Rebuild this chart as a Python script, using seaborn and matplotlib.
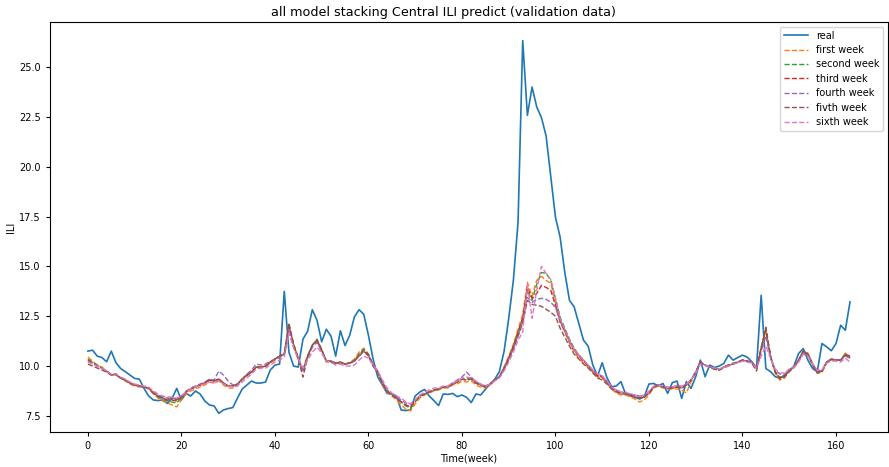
import numpy as np
import matplotlib
matplotlib.use("Agg")
import matplotlib.pyplot as plt
import seaborn as sns

# weekly ILI values (validation weeks 0..163)
real = [
    10.75, 10.80, 10.50, 10.43, 10.22, 10.75, 10.17, 9.88, 9.72, 9.55,
    9.38, 9.35, 8.88, 8.50, 8.30, 8.27, 8.30, 8.13, 8.38, 8.88,
    8.30, 8.63, 8.50, 8.75, 8.60, 8.25, 8.05, 8.00, 7.63, 7.80,
    7.87, 7.92, 8.40, 8.85, 9.05, 9.25, 9.15, 9.15, 9.20, 9.80,
    10.05, 10.10, 13.75, 10.70, 10.00, 9.95, 11.35, 11.75, 12.83, 12.30,
    11.22, 11.85, 11.50, 10.50, 11.77, 11.03, 11.55, 12.47, 12.83, 12.60,
    11.55, 10.35, 9.45, 9.05, 8.63, 8.60, 8.50, 7.80, 7.77, 7.80,
    8.50, 8.70, 8.83, 8.50, 8.27, 8.02, 8.60, 8.58, 8.63, 8.47,
    8.55, 8.43, 8.17, 8.60, 8.55, 8.83, 9.10, 9.33, 9.72, 10.72,
    12.38, 14.30, 17.20, 26.33, 22.58, 24.00, 23.00, 22.47, 21.55, 19.50,
    17.47, 16.47, 14.70, 13.30, 12.97, 12.13, 11.30, 11.00, 10.05, 9.50,
    10.17, 9.43, 8.97, 9.00, 9.22, 8.60, 8.55, 8.43, 8.35, 8.47,
    9.10, 9.13, 9.00, 9.13, 8.63, 9.17, 9.25, 8.38, 9.22, 8.88,
    9.47, 10.30, 9.47, 10.05, 9.93, 10.00, 10.13, 10.55, 10.30, 10.43,
    10.55, 10.45, 10.22, 9.90, 13.55, 9.88, 9.72, 9.47, 9.38, 9.55,
    9.72, 10.00, 10.63, 10.88, 10.30, 9.88, 9.72, 11.13, 10.97, 10.77,
    11.13, 12.05, 11.80, 13.22,
]

first_week = [
    10.45, 10.25, 10.05, 9.95, 9.75, 9.55, 9.60, 9.40, 9.25, 9.10,
    9.00, 8.95, 8.95, 8.85, 8.60, 8.40, 8.25, 8.15, 8.05, 7.95,
    8.30, 8.60, 8.75, 8.85, 8.95, 9.05, 9.20, 9.15, 9.25, 9.05,
    8.90, 8.90, 9.05, 9.30, 9.50, 9.70, 9.90, 9.90, 10.00, 10.15,
    10.30, 10.45, 10.55, 11.95, 11.05, 10.35, 9.80, 10.55, 11.00, 11.20,
    10.75, 10.20, 10.20, 10.10, 10.15, 10.10, 10.20, 10.35, 10.70, 10.90,
    10.60, 10.05, 9.65, 9.05, 8.70, 8.50, 8.30, 8.05, 7.85, 7.75,
    8.10, 8.40, 8.55, 8.65, 8.75, 8.80, 8.90, 8.90, 9.05, 9.10,
    9.25, 9.20, 9.25, 9.05, 8.95, 8.90, 9.05, 9.25, 9.50, 9.95,
    10.50, 11.10, 11.85, 12.60, 14.20, 13.50, 14.30, 14.50, 14.30, 14.15,
    13.20, 12.30, 11.70, 11.15, 10.70, 10.40, 10.15, 9.95, 9.70, 9.45,
    9.40, 9.15, 8.85, 8.65, 8.55, 8.55, 8.45, 8.35, 8.20, 8.30,
    8.55, 8.90, 9.00, 8.90, 8.85, 8.85, 8.85, 8.80, 8.65, 9.20,
    9.65, 10.20, 10.05, 9.95, 9.85, 9.80, 9.90, 10.00, 10.10, 10.20,
    10.30, 10.25, 10.15, 9.80, 10.85, 11.75, 10.45, 9.65, 9.30, 9.40,
    9.75, 9.90, 10.25, 10.75, 10.65, 10.10, 9.65, 9.70, 10.15, 10.30,
    10.30, 10.30, 10.65, 10.45,
]

second_week = [
    10.35, 10.20, 10.05, 9.90, 9.75, 9.55, 9.60, 9.40, 9.30, 9.15,
    9.05, 9.00, 8.95, 8.90, 8.65, 8.45, 8.35, 8.25, 8.20, 8.15,
    8.40, 8.70, 8.85, 8.95, 9.05, 9.15, 9.30, 9.25, 9.35, 9.15,
    9.00, 9.00, 9.10, 9.35, 9.55, 9.70, 9.95, 9.95, 10.00, 10.20,
    10.35, 10.50, 10.60, 12.00, 11.10, 10.40, 9.80, 10.50, 11.05, 11.35,
    10.85, 10.25, 10.20, 10.10, 10.20, 10.10, 10.15, 10.30, 10.60, 10.85,
    10.60, 10.05, 9.70, 9.15, 8.75, 8.55, 8.40, 8.20, 8.00, 7.90,
    8.20, 8.50, 8.60, 8.70, 8.80, 8.85, 8.95, 8.95, 9.10, 9.20,
    9.35, 9.35, 9.40, 9.15, 9.05, 8.95, 9.10, 9.30, 9.45, 9.90,
    10.40, 11.00, 11.70, 12.40, 13.80, 13.30, 14.10, 14.70, 14.65, 14.30,
    13.40, 12.45, 11.90, 11.35, 10.90, 10.55, 10.30, 10.00, 9.75, 9.55,
    9.45, 9.20, 8.95, 8.75, 8.65, 8.65, 8.55, 8.50, 8.40, 8.45,
    8.65, 8.95, 9.05, 8.95, 8.90, 8.90, 8.95, 8.90, 9.05, 9.30,
    9.70, 10.20, 10.05, 9.95, 9.85, 9.80, 9.95, 10.05, 10.15, 10.20,
    10.30, 10.25, 10.20, 9.85, 10.95, 11.80, 10.50, 9.70, 9.45, 9.50,
    9.80, 9.95, 10.30, 10.75, 10.60, 10.10, 9.70, 9.75, 10.20, 10.35,
    10.30, 10.30, 10.60, 10.40,
]

third_week = [
    10.30, 10.15, 10.00, 9.90, 9.75, 9.55, 9.60, 9.40, 9.30, 9.15,
    9.05, 9.00, 8.95, 8.90, 8.65, 8.50, 8.40, 8.30, 8.30, 8.25,
    8.45, 8.70, 8.85, 8.95, 9.05, 9.15, 9.30, 9.25, 9.35, 9.15,
    9.00, 9.00, 9.10, 9.35, 9.55, 9.70, 9.95, 9.95, 10.00, 10.20,
    10.35, 10.50, 10.60, 12.10, 11.10, 10.40, 9.75, 10.50, 11.05, 11.30,
    10.80, 10.25, 10.25, 10.15, 10.20, 10.10, 10.15, 10.25, 10.55, 10.80,
    10.55, 10.05, 9.70, 9.15, 8.75, 8.55, 8.40, 8.20, 8.05, 7.95,
    8.25, 8.50, 8.60, 8.70, 8.80, 8.85, 8.95, 8.95, 9.10, 9.20,
    9.35, 9.30, 9.35, 9.15, 9.05, 8.95, 9.10, 9.30, 9.45, 9.90,
    10.40, 11.00, 11.70, 12.40, 13.95, 13.40, 13.65, 14.05, 13.95, 13.80,
    13.05, 12.20, 11.75, 11.25, 10.80, 10.50, 10.25, 10.00, 9.75, 9.50,
    9.45, 9.20, 8.90, 8.75, 8.65, 8.65, 8.55, 8.50, 8.40, 8.45,
    8.65, 8.95, 9.05, 8.95, 8.90, 8.90, 8.95, 8.90, 9.05, 9.30,
    9.70, 10.20, 10.05, 9.95, 9.85, 9.80, 9.95, 10.05, 10.10, 10.20,
    10.30, 10.25, 10.20, 9.85, 10.90, 11.85, 10.50, 9.70, 9.40, 9.50,
    9.80, 9.95, 10.30, 10.75, 10.60, 10.10, 9.70, 9.75, 10.20, 10.35,
    10.30, 10.30, 10.60, 10.50,
]

fourth_week = [
    10.25, 10.15, 10.00, 9.90, 9.75, 9.55, 9.60, 9.40, 9.30, 9.15,
    9.05, 9.00, 8.95, 8.90, 8.70, 8.55, 8.45, 8.40, 8.40, 8.35,
    8.50, 8.75, 8.90, 9.00, 9.10, 9.20, 9.35, 9.30, 9.75, 9.55,
    9.25, 9.05, 9.10, 9.35, 9.60, 9.80, 10.10, 10.05, 10.10, 10.25,
    10.35, 10.45, 10.60, 11.90, 11.00, 10.35, 9.70, 10.40, 10.95, 11.20,
    10.75, 10.25, 10.25, 10.15, 10.20, 10.10, 10.15, 10.25, 10.50, 10.75,
    10.55, 10.10, 9.75, 9.20, 8.80, 8.60, 8.45, 8.30, 8.15, 8.10,
    8.30, 8.50, 8.60, 8.70, 8.80, 8.85, 8.95, 9.00, 9.15, 9.30,
    9.45, 9.70, 9.45, 9.20, 9.10, 9.00, 9.10, 9.30, 9.45, 9.85,
    10.35, 10.90, 11.55, 12.25, 13.45, 13.20, 13.35, 13.40, 13.35, 13.20,
    12.95, 12.30, 11.80, 11.25, 10.85, 10.55, 10.30, 10.05, 9.80, 9.60,
    9.50, 9.25, 8.95, 8.80, 8.70, 8.65, 8.60, 8.55, 8.50, 8.50,
    8.70, 8.95, 9.05, 8.95, 8.90, 8.95, 9.00, 8.95, 9.10, 9.30,
    9.70, 10.15, 10.05, 9.95, 9.90, 9.85, 9.95, 10.05, 10.10, 10.20,
    10.30, 10.25, 10.20, 9.90, 10.75, 11.50, 10.40, 9.80, 9.60, 9.60,
    9.80, 9.95, 10.25, 10.65, 10.55, 10.10, 9.75, 9.80, 10.20, 10.35,
    10.30, 10.30, 10.50, 10.40,
]

fifth_week = [
    10.10, 10.00, 9.90, 9.80, 9.70, 9.55, 9.55, 9.40, 9.30, 9.15,
    9.05, 9.00, 8.95, 8.90, 8.65, 8.50, 8.40, 8.35, 8.35, 8.30,
    8.45, 8.70, 8.85, 8.95, 9.05, 9.15, 9.30, 9.25, 9.35, 9.15,
    9.00, 9.00, 9.10, 9.35, 9.55, 9.70, 9.95, 9.95, 10.00, 10.20,
    10.35, 10.50, 10.60, 12.15, 11.05, 10.35, 9.45, 10.45, 11.05, 11.30,
    10.80, 10.25, 10.25, 10.15, 10.20, 10.10, 10.15, 10.25, 10.50, 10.75,
    10.50, 10.00, 9.65, 9.10, 8.75, 8.55, 8.40, 8.20, 8.05, 7.95,
    8.25, 8.50, 8.60, 8.70, 8.80, 8.85, 8.95, 8.95, 9.10, 9.20,
    9.35, 9.30, 9.35, 9.15, 9.05, 8.95, 9.10, 9.30, 9.45, 9.85,
    10.30, 10.85, 11.50, 12.15, 13.30, 13.10, 13.05, 13.00, 12.85, 12.70,
    12.50, 11.90, 11.45, 11.00, 10.60, 10.35, 10.10, 9.90, 9.65, 9.40,
    9.30, 9.10, 8.85, 8.70, 8.60, 8.60, 8.50, 8.45, 8.40, 8.45,
    8.65, 8.95, 9.05, 8.95, 8.90, 8.90, 8.95, 8.90, 9.05, 9.30,
    9.70, 10.15, 10.05, 9.95, 9.85, 9.80, 9.95, 10.05, 10.10, 10.20,
    10.30, 10.25, 10.15, 9.75, 10.90, 11.95, 10.50, 9.70, 9.35, 9.45,
    9.75, 9.95, 10.30, 10.75, 10.60, 10.05, 9.65, 9.70, 10.20, 10.35,
    10.30, 10.30, 10.55, 10.45,
]

sixth_week = [
    10.20, 10.10, 10.00, 9.90, 9.75, 9.60, 9.60, 9.45, 9.35, 9.20,
    9.10, 9.05, 9.00, 8.95, 8.75, 8.60, 8.50, 8.45, 8.45, 8.40,
    8.50, 8.70, 8.85, 8.95, 9.05, 9.10, 9.20, 9.15, 9.25, 9.10,
    9.00, 8.95, 9.00, 9.20, 9.40, 9.60, 9.85, 9.90, 9.90, 10.05,
    10.20, 10.30, 10.45, 11.65, 10.90, 10.35, 9.90, 10.30, 10.70, 10.95,
    10.65, 10.25, 10.20, 10.05, 10.10, 10.00, 10.00, 10.05, 10.30, 10.50,
    10.40, 10.05, 9.75, 9.30, 8.90, 8.65, 8.50, 8.40, 8.20, 8.10,
    8.30, 8.55, 8.70, 8.80, 8.90, 8.90, 9.00, 9.00, 9.15, 9.25,
    9.40, 9.45, 9.40, 9.25, 9.10, 9.00, 9.10, 9.25, 9.40, 9.75,
    10.20, 10.70, 11.30, 11.70, 14.10, 12.40, 13.80, 15.00, 14.65, 14.35,
    13.40, 12.40, 11.85, 11.30, 10.85, 10.55, 10.30, 10.05, 9.80, 9.60,
    9.50, 9.25, 8.95, 8.80, 8.70, 8.70, 8.60, 8.55, 8.50, 8.55,
    8.75, 9.00, 9.05, 9.00, 8.95, 8.95, 9.05, 9.00, 9.10, 9.30,
    9.65, 10.10, 10.05, 9.95, 9.90, 9.85, 9.95, 10.00, 10.10, 10.15,
    10.25, 10.20, 10.15, 9.90, 10.50, 11.00, 10.40, 9.85, 9.65, 9.65,
    9.85, 9.95, 10.20, 10.60, 10.50, 10.10, 9.80, 9.80, 10.15, 10.25,
    10.25, 10.20, 10.40, 10.20,
]

weeks = np.arange(len(real))
preds = [
    ("first week", first_week),
    ("second week", second_week),
    ("third week", third_week),
    ("fourth week", fourth_week),
    ("fivth week", fifth_week),
    ("sixth week", sixth_week),
]
colors = sns.color_palette("tab10")

plt.rcParams['font.family'] = ['DejaVu Sans']
fig, ax = plt.subplots(figsize=(8.89, 4.67), dpi=100)

sns.lineplot(x=weeks, y=real, ax=ax, color=colors[0], linewidth=1.2, label="real")
for i, (name, vals) in enumerate(preds):
    sns.lineplot(x=weeks, y=vals, ax=ax, color=colors[i + 1], linewidth=1.0,
                 linestyle="--", label=name)

ax.set_title("all model stacking Central ILI predict (validation data)",
             fontsize=9.2, pad=4, x=0.469)
ax.set_xlabel("Time(week)", fontsize=7, labelpad=2)
ax.set_ylabel("ILI", fontsize=7, labelpad=2)
ax.tick_params(labelsize=7, length=3)
ax.set_xticks(range(0, 161, 20))
ax.set_yticks([7.5, 10.0, 12.5, 15.0, 17.5, 20.0, 22.5, 25.0])
ax.legend(loc="upper right", fontsize=7, handlelength=2.5, labelspacing=0.45)

fig.subplots_adjust(left=0.056, right=0.999, top=0.953, bottom=0.075)
fig.savefig("out.png", dpi=100)
